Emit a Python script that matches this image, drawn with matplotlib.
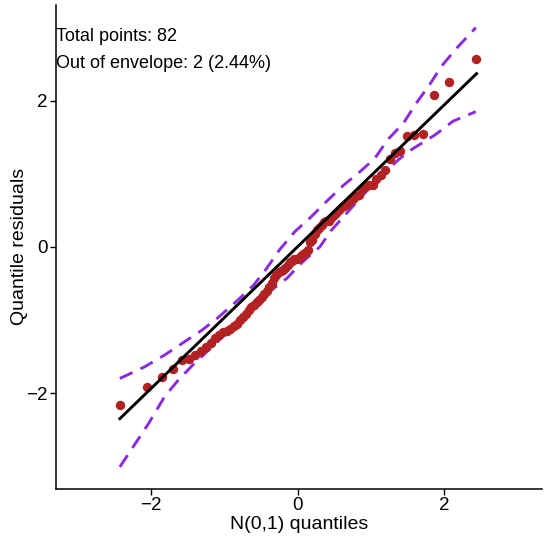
import matplotlib
matplotlib.use("Agg")
import matplotlib.pyplot as plt

plt.rcParams['font.family'] = ['Liberation Sans', 'DejaVu Sans']

# theoretical N(0,1) quantiles (82 points)
theo_q = [-2.427, -2.059, -1.853, -1.705, -1.587, -1.488, -1.401, -1.324, -1.254, -1.190,
          -1.130, -1.074, -1.021, -0.971, -0.923, -0.878, -0.834, -0.792, -0.751, -0.711,
          -0.672, -0.634, -0.597, -0.561, -0.526, -0.491, -0.457, -0.424, -0.391, -0.358,
          -0.326, -0.294, -0.263, -0.231, -0.200, -0.169, -0.137, -0.107, -0.076, -0.046,
          -0.015, 0.015, 0.046, 0.076, 0.107, 0.137, 0.169, 0.200, 0.231, 0.263,
          0.294, 0.326, 0.358, 0.391, 0.424, 0.457, 0.491, 0.526, 0.561, 0.597,
          0.634, 0.672, 0.711, 0.751, 0.792, 0.834, 0.878, 0.923, 0.971, 1.021,
          1.074, 1.130, 1.190, 1.254, 1.324, 1.401, 1.488, 1.587, 1.705, 1.853,
          2.059, 2.427]

# sorted quantile residuals
resid = [-2.16, -1.91, -1.78, -1.67, -1.55, -1.54, -1.48, -1.43, -1.37, -1.31,
         -1.24, -1.20, -1.17, -1.15, -1.12, -1.08, -1.05, -1.00, -0.96, -0.92,
         -0.87, -0.82, -0.79, -0.76, -0.72, -0.68, -0.64, -0.60, -0.55, -0.49,
         -0.42, -0.38, -0.35, -0.33, -0.32, -0.29, -0.25, -0.21, -0.19, -0.17,
         -0.16, -0.15, -0.13, -0.10, -0.07, -0.04, 0.06, 0.10, 0.18, 0.23,
         0.26, 0.30, 0.34, 0.35, 0.36, 0.40, 0.44, 0.47, 0.51, 0.54,
         0.56, 0.59, 0.63, 0.66, 0.70, 0.71, 0.79, 0.82, 0.84, 0.85,
         0.93, 0.98, 1.05, 1.20, 1.29, 1.31, 1.52, 1.53, 1.54, 2.08,
         2.26, 2.57]

# reference line
line_x = [-2.43, 2.44]
line_y = [-2.35, 2.37]

# simulated envelope
upper_x = [-2.43, -2.09, -1.82, -1.61, -1.31, -1.08, -0.81, -0.60, -0.43, -0.25, -0.04,
           0.16, 0.39, 0.62, 0.85, 1.05, 1.23, 1.44, 1.62, 1.80, 1.96, 2.17, 2.43]
upper_y = [-1.80, -1.64, -1.48, -1.34, -1.14, -0.96, -0.72, -0.52, -0.30, -0.04, 0.21,
           0.39, 0.62, 0.84, 1.03, 1.21, 1.47, 1.69, 1.97, 2.22, 2.47, 2.72, 3.00]
lower_x = [-2.43, -2.04, -1.82, -1.63, -1.41, -1.13, -0.84, -0.41, -0.15, 0.07,
           0.30, 0.46, 0.89, 1.12, 1.37, 1.55, 1.87, 2.12, 2.43]
lower_y = [-3.01, -2.42, -2.05, -1.82, -1.59, -1.33, -1.05, -0.63, -0.43, -0.20,
           0.00, 0.23, 0.71, 0.96, 1.19, 1.33, 1.53, 1.72, 1.85]

n_total = 82
n_out = 2

fig = plt.figure(figsize=(5.5, 5.45), dpi=100)
ax = fig.add_axes([0.102, 0.103, 0.883, 0.888])

dash = (0, (4.8, 3.0))
ax.plot(upper_x, upper_y, color='#8A2BE2', lw=2.1, linestyle=dash, zorder=2)
ax.plot(lower_x, lower_y, color='#8A2BE2', lw=2.1, linestyle=dash, zorder=2)
ax.scatter(theo_q, resid, s=46, color='#B22222', linewidths=0, zorder=3)
ax.plot(line_x, line_y, color='black', lw=2.1, zorder=4)

ax.set_xlim(-3.3, 3.33)
ax.set_ylim(-3.31, 3.31)
ax.set_xticks([-2, 0, 2])
ax.set_yticks([-2, 0, 2])
ax.tick_params(labelsize=13.5, length=4, width=1, pad=2, colors='black')
for s in ['top', 'right']:
    ax.spines[s].set_visible(False)
for s in ['left', 'bottom']:
    ax.spines[s].set_linewidth(1.1)

ax.set_xlabel('N(0,1) quantiles', fontsize=14, labelpad=1)
ax.set_ylabel('Quantile residuals', fontsize=14, labelpad=-1)

ax.text(0.0, 0.934, 'Total points: %d' % n_total, transform=ax.transAxes,
        ha='left', va='center', fontsize=13)
ax.text(0.0, 0.878, 'Out of envelope: %d (%.2f%%)' % (n_out, 100 * n_out / n_total),
        transform=ax.transAxes, ha='left', va='center', fontsize=13)

fig.savefig('out.png', dpi=100)
